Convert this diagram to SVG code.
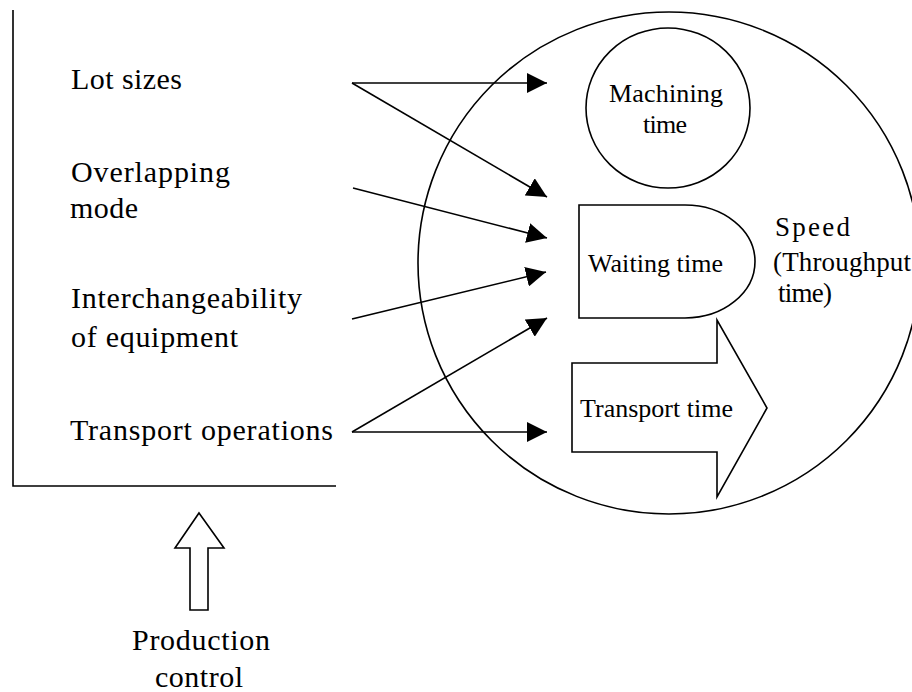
<svg xmlns="http://www.w3.org/2000/svg" width="912" height="692" viewBox="0 0 912 692">
  <style>
    .line { fill: none; stroke: #000; stroke-width: 1.6; }
    .shape { fill: #fff; stroke: #000; stroke-width: 1.6; }
    text { font-family: "Liberation Serif", "Times New Roman", serif; fill: #000; }
    .big { font-size: 30px; }
    .mid { font-size: 26px; }
  </style>
  <defs>
    <marker id="head" viewBox="0 0 20 20" refX="20" refY="10" markerWidth="20" markerHeight="20" markerUnits="userSpaceOnUse" orient="auto">
      <path d="M0,0 L20,10 L0,20 z" fill="#000"/>
    </marker>
  </defs>
  <rect width="912" height="692" fill="#fff"/>

  <!-- Influencing factors panel -->
  <g id="factors">
    <path class="line" d="M13,10 V486 H336" stroke-width="2.2"/>
  </g>
  <g id="lot-sizes">
    <text class="big" x="71" y="89" textLength="111" lengthAdjust="spacing">Lot sizes</text>
  </g>
  <g id="overlapping-mode">
    <text class="big" x="71" y="182" textLength="159" lengthAdjust="spacing">Overlapping</text>
    <text class="big" x="70" y="218" textLength="68" lengthAdjust="spacing">mode</text>
  </g>
  <g id="interchangeability">
    <text class="big" x="71" y="308" textLength="231" lengthAdjust="spacing">Interchangeability</text>
    <text class="big" x="71" y="347" textLength="167" lengthAdjust="spacing">of equipment</text>
  </g>
  <g id="transport-operations">
    <text class="big" x="70" y="440" textLength="263" lengthAdjust="spacing">Transport operations</text>
  </g>

  <!-- Speed (throughput time) -->
  <g id="speed">
    <circle class="shape" cx="669" cy="263" r="251"/>
    <text font-size="27" x="775" y="236" textLength="75" lengthAdjust="spacing">Speed</text>
    <text font-size="27" x="773" y="271" textLength="138" lengthAdjust="spacing">(Throughput</text>
    <text font-size="27" x="778" y="302" textLength="54" lengthAdjust="spacing">time)</text>
  </g>
  <g id="machining-time">
    <ellipse class="shape" cx="668" cy="108" rx="82" ry="80"/>
    <text class="mid" x="609" y="102" textLength="114" lengthAdjust="spacing">Machining</text>
    <text class="mid" x="643" y="133" textLength="44" lengthAdjust="spacing">time</text>
  </g>
  <g id="waiting-time">
    <path class="shape" d="M579,205 H685 A70,56.5 0 0 1 685,318 H579 Z"/>
    <text class="mid" x="588" y="272" textLength="135" lengthAdjust="spacing">Waiting time</text>
  </g>
  <g id="transport-time">
    <path class="shape" d="M572,363 H717 V320 L767,408 L717,497 V452 H572 Z"/>
    <text class="mid" x="580" y="417" textLength="153" lengthAdjust="spacing">Transport time</text>
  </g>

  <!-- Production control input -->
  <g id="production-control">
    <path class="shape" d="M199,513 L224,548 H208 V610 H190 V548 H175 Z" stroke-width="1.4"/>
    <text class="big" x="132" y="650" textLength="138" lengthAdjust="spacing">Production</text>
    <text class="big" x="155" y="687" textLength="88" lengthAdjust="spacing">control</text>
  </g>

  <!-- Connectors -->
  <g id="connectors" class="line" marker-end="url(#head)">
    <line x1="352" y1="83" x2="547" y2="83"/>
    <line x1="352" y1="83" x2="547" y2="197"/>
    <line x1="353" y1="188" x2="547" y2="238"/>
    <line x1="352" y1="319" x2="546" y2="272"/>
    <line x1="352" y1="432" x2="547" y2="318"/>
    <line x1="352" y1="432" x2="547" y2="432"/>
  </g>
</svg>
